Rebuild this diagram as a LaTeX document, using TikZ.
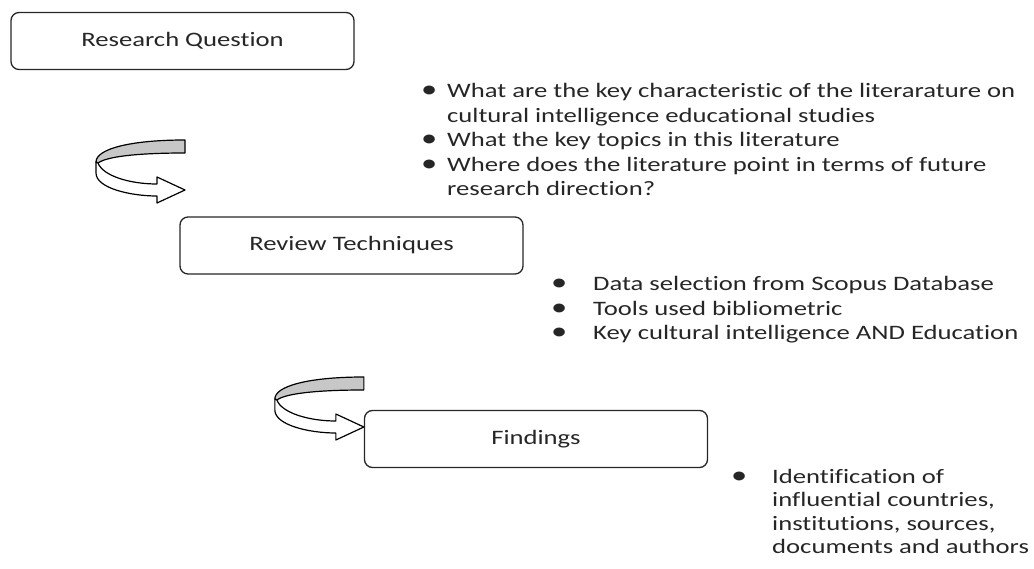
\documentclass[tikz,border=0pt]{standalone}
\usepackage{fontspec}
\setmainfont{Carlito}[FakeStretch=1.3,Ligatures=NoCommon]
\usepackage{tikz}
\usetikzlibrary{calc}

\newcommand{\bigbul}{{\fontsize{25}{24.5}\selectfont\textbullet}}

\begin{document}
\begin{tikzpicture}[x=1pt,y=-1pt,
      font=\fontsize{20.5}{24.5}\selectfont,
      box style/.style={draw=black!85,line width=1.3pt,rounded corners=8pt,
        minimum width=343pt,minimum height=57pt,inner sep=0pt,text=black!85},
      list style/.style={anchor=base west,inner sep=0pt,text=black!85},
      turn arrow/.pic={
        % back of the ribbon
        \draw[line width=1.2pt,fill=black!22,line join=round] (0,-50)
          .. controls (-55,-50) and (-89,-41) .. (-89,-28) -- (-87,-27)
          .. controls (-76,-35) and (-35,-37) .. (0,-37) -- cycle;
        % front of the ribbon with the head
        \draw[line width=1.2pt,fill=white,line join=round] (-89,-28) -- (-89,-17)
          .. controls (-89,-2) and (-55,6) .. (-28,6) -- (-28,13) -- (0,0)
          -- (-28,-13) -- (-28,-6) .. controls (-55,-6) and (-82,-14) .. (-87,-27)
          -- cycle;
      }
      ]
  \useasboundingbox (0,0) rectangle (1034,569);
  \node[box style] (rq) at (182.5,41) {Research Question};
  \node[box style] (rt) at (351.5,245.5) {Review Techniques};
  \node[box style] (fd) at (536,439) {Findings};
  \node[list style] (rq list) at (421,98) {\begin{tabular}[t]{@{}p{26pt}@{}l@{}}
      \bigbul & What are the key characteristic of the literarature on\\
      & cultural intelligence educational studies\\
      \bigbul & What the key topics in this literature\\
      \bigbul & Where does the literature point in terms of future\\
      & research direction?
    \end{tabular}};
  \node[list style] (rt list) at (551,291) {\begin{tabular}[t]{@{}p{42pt}@{}l@{}}
      \bigbul & Data selection from Scopus Database\\
      \bigbul & Tools used bibliometric\\
      \bigbul & Key cultural intelligence AND Education
    \end{tabular}};
  \node[list style,font=\fontsize{20.5}{23.5}\selectfont] (fd list) at (731,483)
    {\begin{tabular}[t]{@{}p{41pt}@{}l@{}}
      \bigbul & Identification of\\
      & influential countries,\\
      & institutions, sources,\\
      & documents and authors
    \end{tabular}};
  \pic at (185,190) {turn arrow};
  \pic at ($(fd.west)+(0,-12)$) {turn arrow};
\end{tikzpicture}
\end{document}
